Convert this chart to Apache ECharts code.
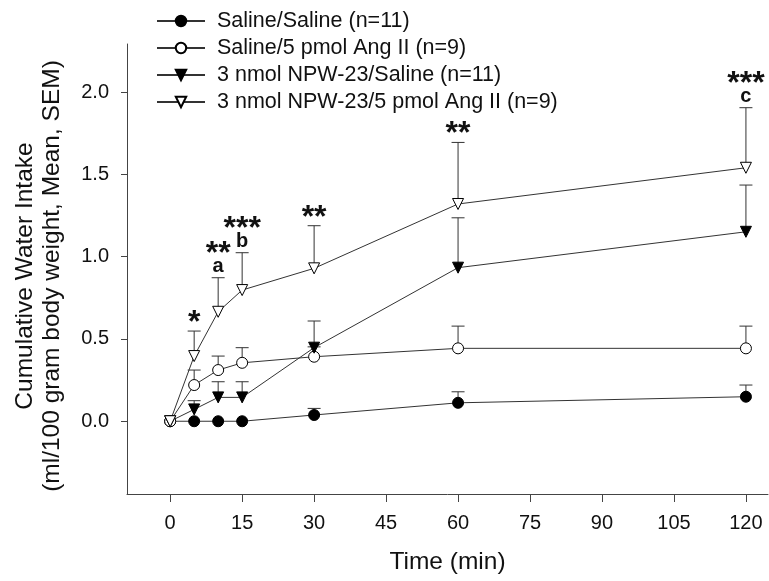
<!DOCTYPE html>
<html><head><meta charset="utf-8">
<script src="https://cdn.jsdelivr.net/npm/echarts@6/dist/echarts.min.js"></script>
<style>html,body{margin:0;padding:0;background:#fff}#c{width:769px;height:581px}</style>
</head><body><div id="c"></div>
<script>
const times = [0, 5, 10, 15, 30, 60, 120];
const groupNames = ['Saline/Saline (n=11)', 'Saline/5 pmol Ang II (n=9)', '3 nmol NPW-23/Saline (n=11)', '3 nmol NPW-23/5 pmol Ang II (n=9)'];
const salineSalineMean = [0, 0, 0, 0, 0.038, 0.112, 0.149];
const salineSalineSem = [0, 0, 0, 0, 0.04, 0.067, 0.071];
const salineAngMean = [0, 0.22, 0.311, 0.355, 0.392, 0.443, 0.443];
const salineAngSem = [0, 0.091, 0.085, 0.092, 0.06, 0.135, 0.135];
const npwSalineMean = [0, 0.072, 0.145, 0.145, 0.447, 0.933, 1.151];
const npwSalineSem = [0, 0.053, 0.095, 0.095, 0.162, 0.303, 0.284];
const npwAngMean = [0, 0.396, 0.665, 0.797, 0.929, 1.32, 1.54];
const npwAngSem = [0, 0.152, 0.207, 0.227, 0.259, 0.374, 0.365];
const sigStars = ['', '*', '**', '***', '**', '**', '***'];
const sigLetters = ['', '', 'a', 'b', '', '', 'c'];
const xTicks = [0, 15, 30, 45, 60, 75, 90, 105, 120];
const yTicks = [0, 0.5, 1.0, 1.5, 2.0];

const FONT = '"Liberation Sans", Arial, sans-serif';
const chart = echarts.init(document.getElementById('c'), null, {renderer: 'canvas'});

const groups = [
  {name: groupNames[0], mean: salineSalineMean, sem: salineSalineSem, symbol: 'circle', rot: 0, fill: '#000', size: 11},
  {name: groupNames[1], mean: salineAngMean, sem: salineAngSem, symbol: 'circle', rot: 0, fill: '#fff', size: 11},
  {name: groupNames[2], mean: npwSalineMean, sem: npwSalineSem, symbol: 'triangle', rot: 180, fill: '#000', size: 11},
  {name: groupNames[3], mean: npwAngMean, sem: npwAngSem, symbol: 'triangle', rot: 180, fill: '#fff', size: 11}
];

const series = [];
groups.forEach(function (g) {
  const ebData = [];
  times.forEach(function (t, i) { if (g.sem[i] > 0) ebData.push([t, g.mean[i], g.sem[i]]); });
  series.push({
    type: 'custom', name: g.name + ' SEM', z: 1, silent: true,
    data: ebData,
    encode: {x: 0, y: 1},
    renderItem: function (params, api) {
      const x = api.value(0), m = api.value(1), s = api.value(2);
      const p0 = api.coord([x, m]);
      const p1 = api.coord([x, m + s]);
      const st = {stroke: '#333', lineWidth: 1};
      return {type: 'group', children: [
        {type: 'line', shape: {x1: p0[0], y1: p0[1], x2: p1[0], y2: p1[1]}, style: st},
        {type: 'line', shape: {x1: p1[0] - 6.5, y1: p1[1], x2: p1[0] + 6.5, y2: p1[1]}, style: st}
      ]};
    }
  });
});
groups.forEach(function (g) {
  series.push({
    type: 'line', name: g.name, z: 3,
    data: times.map(function (t, i) { return [t, g.mean[i]]; }),
    symbol: g.symbol, symbolSize: g.size, symbolRotate: g.rot, showAllSymbol: true,
    itemStyle: {color: g.fill, borderColor: '#000', borderWidth: 1, opacity: 1},
    lineStyle: {color: '#333', width: 1},
    emphasis: {disabled: true}
  });
});
// significance annotations above NPW-23/Ang II error bars
series.push({
  type: 'custom', name: 'sig', z: 4, silent: true,
  data: times.map(function (t, i) { return [t, npwAngMean[i] + npwAngSem[i], i]; }).filter(function (d) { return sigStars[d[2]]; }),
  encode: {x: 0, y: 1},
  renderItem: function (params, api) {
    const i = api.value(2);
    const p = api.coord([api.value(0), api.value(1)]);
    const children = [];
    const letter = sigLetters[i];
    let starY = p[1] - 16;
    if (letter) {
      children.push({type: 'text', style: {text: letter, x: p[0], y: p[1] - 11, align: 'center', verticalAlign: 'middle', font: 'bold 20px ' + FONT, fill: '#111'}});
      starY = p[1] - 32;
    }
    children.push({type: 'text', style: {text: sigStars[i], x: p[0], y: starY + 8, align: 'center', verticalAlign: 'middle', font: 'bold 32px ' + FONT, fill: '#111'}});
    return {type: 'group', children: children};
  }
});

chart.setOption({
  animation: false,
  backgroundColor: '#fff',
  textStyle: {fontFamily: FONT},
  grid: {left: 127, right: 1, top: 44, bottom: 87, containLabel: false},
  legend: {
    orient: 'vertical', left: 156, top: 10, padding: 0,
    data: groupNames,
    itemWidth: 48, itemHeight: 13, itemGap: 5,
    selectedMode: false,
    textStyle: {fontSize: 21.5, color: '#111', lineHeight: 21, padding: [0, 0, 0, 7], fontFamily: FONT}
  },
  xAxis: {
    type: 'value', min: -9, max: 124.6,
    name: 'Time (min)', nameLocation: 'middle', nameGap: 56,
    nameTextStyle: {fontSize: 24.5, color: '#111', fontFamily: FONT},
    axisLine: {onZero: false, lineStyle: {color: '#444', width: 1}},
    axisTick: {customValues: xTicks, length: 8, lineStyle: {color: '#444'}},
    axisLabel: {customValues: xTicks, fontSize: 20, color: '#111', margin: 19, fontFamily: FONT},
    splitLine: {show: false}
  },
  yAxis: {
    type: 'value', min: -0.442, max: 2.292,
    name: 'Cumulative Water Intake\n(ml/100 gram body weight, Mean, SEM)', nameLocation: 'middle', nameGap: 61, nameRotate: 90,
    nameTextStyle: {fontSize: 24.5, color: '#111', lineHeight: 27, fontFamily: FONT, padding: [0, 14, 0, 0]},
    axisLine: {show: true, onZero: false, lineStyle: {color: '#444', width: 1}},
    axisTick: {show: true, customValues: yTicks, length: 6, lineStyle: {color: '#444'}},
    axisLabel: {customValues: yTicks, fontSize: 20, color: '#111', margin: 18, fontFamily: FONT, formatter: function (v) { return v.toFixed(1); }},
    splitLine: {show: false}
  },
  series: series
});
</script>
</body></html>
